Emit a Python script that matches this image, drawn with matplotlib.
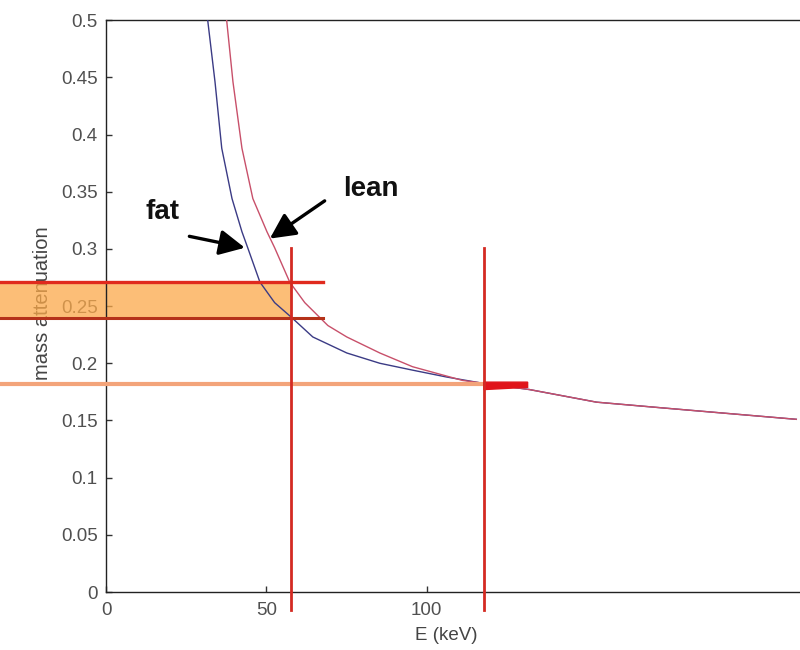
import matplotlib
matplotlib.use("Agg")
import matplotlib.pyplot as plt
import numpy as np

plt.rcParams['font.family'] = ['Liberation Sans', 'DejaVu Sans']

# Data
fat_E = [31.2, 31.8, 34.0, 36.1, 39.3, 42.4, 44.2, 48.0, 52.6, 57.9, 64.5, 75.1, 85.4,
         95.6, 106.2, 116.5, 132.1, 153.0, 173.5, 194.4, 215.3]
fat_mu = [0.515, 0.498, 0.446, 0.388, 0.344, 0.315, 0.301, 0.271, 0.253, 0.240, 0.223, 0.209,
          0.200, 0.194, 0.188, 0.183, 0.177, 0.166, 0.161, 0.156, 0.151]
lean_E = [37.1, 37.7, 39.6, 42.4, 45.8, 50.2, 52.6, 57.3, 62.0, 69.2, 75.1, 85.4, 95.6,
          111.2, 116.5, 132.1, 153.0, 173.5, 194.4, 215.3]
lean_mu = [0.515, 0.498, 0.446, 0.388, 0.344, 0.315, 0.301, 0.271, 0.253, 0.233, 0.223, 0.209,
           0.197, 0.185, 0.183, 0.177, 0.166, 0.161, 0.156, 0.151]

E_low, E_high = 57.6, 117.8          # two chosen energies
mu_lean_low, mu_fat_low = 0.271, 0.240
mu_high = 0.182
x_ticks = [0, 50, 100]
y_ticks = [0, 0.05, 0.1, 0.15, 0.2, 0.25, 0.3, 0.35, 0.4, 0.45, 0.5]
y_ticklabels = ['0', '0.05', '0.1', '0.15', '0.2', '0.25', '0.3', '0.35', '0.4', '0.45', '0.5']

fig = plt.figure(figsize=(8, 6.5), dpi=100)
ax = fig.add_axes([0.1325, 0.0892, 0.8725, 0.969 - 0.0892])
ax.set_xlim(0, 217.7)
ax.set_ylim(0, 0.5)

ax.set_xticks(x_ticks)
ax.set_xticklabels([str(t) for t in x_ticks])
ax.set_yticks(y_ticks)
ax.set_yticklabels(y_ticklabels)
ax.tick_params(direction='in', length=4, width=1, labelsize=13.5, colors='#333333',
               labelcolor='#505050', top=False, right=False, pad=6)
ax.tick_params(axis='x', pad=7)
for sp in ax.spines.values():
    sp.set_color('#222222')
    sp.set_linewidth(1.0)
ax.spines['right'].set_visible(False)

ax.set_xlabel('E (keV)', fontsize=13.5, color='#444444')
ax.xaxis.set_label_coords(0.488, -0.062)
ax.set_ylabel('mass attenuation', fontsize=14.5, color='#444444')
ax.yaxis.set_label_coords(-0.078, 0.505)

# curves
ax.plot(fat_E, fat_mu, color='#3b3b85', lw=1.0, zorder=3)
ax.plot(lean_E, lean_mu, color='#c8506a', lw=1.0, zorder=3)

x_left = -33
# orange band
ax.fill_between([x_left, E_low], mu_fat_low, mu_lean_low, color='#fba94a', alpha=0.75,
                lw=0, clip_on=False, zorder=2)
ax.plot([x_left, 67.6], [mu_lean_low, mu_lean_low], color='#e02a1e', lw=2.4, clip_on=False, zorder=4)
ax.plot([x_left, 67.6], [mu_fat_low, mu_fat_low], color='#b5321a', lw=2.2, clip_on=False, zorder=4)
ax.plot([x_left, E_high], [mu_high, mu_high], color='#f3a47a', lw=3.0, clip_on=False, zorder=4)
ax.fill([E_high, 131.5, 131.5, E_high], [0.1835, 0.1835, 0.179, 0.177], color='#e0141a',
        zorder=4, clip_on=False)

# vertical lines
for xv in (E_low, E_high):
    ax.plot([xv, xv], [0.301, -0.016], color='#d42a22', lw=2.0, clip_on=False, zorder=5)

# annotations
ax.annotate('', xy=(43.3, 0.301), xytext=(26.0, 0.311),
            arrowprops=dict(arrowstyle='-|>,head_length=0.7,head_width=0.35', color='black',
                            lw=2.4, mutation_scale=22, shrinkA=0, shrinkB=0))
ax.annotate('', xy=(51.1, 0.309), xytext=(68.2, 0.342),
            arrowprops=dict(arrowstyle='-|>,head_length=0.7,head_width=0.35', color='black',
                            lw=2.4, mutation_scale=22, shrinkA=0, shrinkB=0))
ax.text(17.6, 0.332, 'fat', fontsize=20, fontweight='bold', ha='center', va='center', color='#111111')
ax.text(82.5, 0.352, 'lean', fontsize=20, fontweight='bold', ha='center', va='center', color='#111111')

fig.savefig('out.png', dpi=100)
